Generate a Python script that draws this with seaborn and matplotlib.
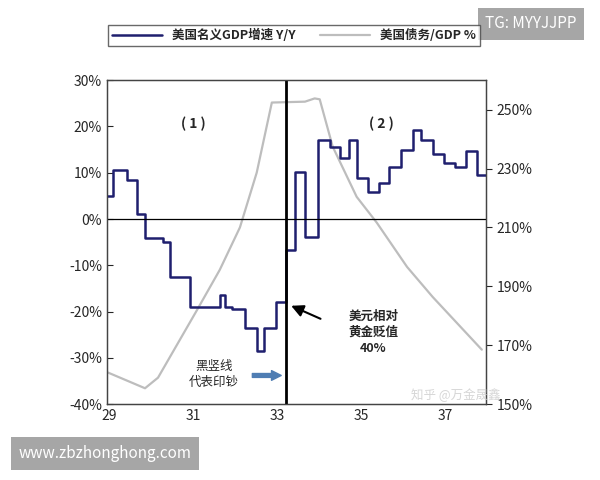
import numpy as np
import pandas as pd
import matplotlib.pyplot as plt
import seaborn as sns

# 美国名义GDP增速 Y/Y (阶梯线)
gdp_year = [28.95, 29.1, 29.43, 29.67, 29.86, 30.29, 30.45, 30.93, 31.64, 31.76, 31.93,
            32.24, 32.52, 32.69, 32.98, 33.21, 33.43, 33.67, 33.98, 34.26, 34.5, 34.71,
            34.9, 35.17, 35.43, 35.67, 35.95, 36.24, 36.43, 36.71, 36.98, 37.24, 37.5,
            37.76, 37.98]
gdp_val = [5, 10.5, 8.5, 1, -4, -5, -12.5, -19, -16.5, -19, -19.5,
           -23.6, -28.5, -23.6, -18, -6.7, 10.2, -3.8, 17, 15.5, 13.2, 17,
           8.8, 5.8, 7.7, 11.2, 15, 19.2, 17, 14, 12, 11.2, 14.7,
           9.5, 9.5]

# 美国债务/GDP %
debt_year = [28.95, 29.86, 30.17, 31.1, 31.64, 32.12, 32.52, 32.88, 33.67, 33.9,
             34.02, 34.33, 34.9, 35.38, 36.1, 36.71, 37.88]
debt_val = [160.9, 155.4, 159, 182, 195.6, 210, 228.6, 252.4, 252.7, 253.8,
            253.5, 237.4, 220.4, 211.6, 196.6, 186.4, 168.5]

xticks = [29, 31, 33, 35, 37]
navy = '#1f1f6e'
grey = '#bdbdbd'

sns.set_style('white')
plt.rcParams['font.family'] = ['Noto Sans CJK SC', 'DejaVu Sans']

fig = plt.figure(figsize=(6, 4.8), dpi=100)
ax = fig.add_axes([0.178, 0.158, 0.632, 0.675])
ax2 = ax.twinx()

gdp = pd.DataFrame({'year': gdp_year, 'val': gdp_val})
debt = pd.DataFrame({'year': debt_year, 'val': debt_val})
sns.lineplot(data=gdp, x='year', y='val', ax=ax, color=navy, lw=1.8,
             drawstyle='steps-post', label='美国名义GDP增速 Y/Y', legend=False)
sns.lineplot(data=debt, x='year', y='val', ax=ax2, color=grey, lw=1.6,
             label='美国债务/GDP %', legend=False)
ax.set_zorder(ax2.get_zorder() + 1)
ax.patch.set_visible(False)

ax.set_xlim(28.95, 37.98)
ax.set_ylim(-40, 30)
ax2.set_ylim(150, 260)
ax.set_xticks(xticks)
ax.set_xticklabels([str(t) for t in xticks])
ax.set_yticks(range(-40, 31, 10))
ax.set_yticklabels([f'{v}%' for v in range(-40, 31, 10)])
ax2.set_yticks(range(150, 251, 20))
ax2.set_yticklabels([f'{v}%' for v in range(150, 251, 20)])
ax.set_xlabel('')
ax.set_ylabel('')
ax2.set_ylabel('')
ax.axhline(0, color='black', lw=0.9)
ax.tick_params(axis='both', labelsize=10, direction='in', length=4)
ax2.tick_params(axis='y', labelsize=10, direction='out', length=4)
for a in (ax, ax2):
    for s in a.spines.values():
        s.set_color('#444444')
        s.set_linewidth(0.9)

ax.axvline(33.21, color='black', lw=2)
ax.text(31.0, 20.5, '( 1 )', ha='center', va='center', fontsize=10, fontweight='bold')
ax.text(35.5, 20.5, '( 2 )', ha='center', va='center', fontsize=10, fontweight='bold')
ax.annotate('', xy=(33.28, -18.5), xytext=(34.1, -21.8),
            arrowprops=dict(arrowstyle='-|>', color='black', lw=1.5, mutation_scale=18))
ax.text(35.3, -24.5, '美元相对\n黄金贬值\n40%', ha='center', va='center', fontsize=9,
        fontweight='bold', linespacing=1.3)
ax.annotate('', xy=(33.17, -33.8), xytext=(32.35, -33.8),
            arrowprops=dict(arrowstyle='simple', color='#4f7db3', mutation_scale=14))
ax.text(31.5, -33.5, '黑竖线\n代表印钞', ha='center', va='center', fontsize=9,
        linespacing=1.3)

h1, l1 = ax.get_legend_handles_labels()
h2, l2 = ax2.get_legend_handles_labels()
leg = fig.legend(h1 + h2, l1 + l2, loc='upper left', bbox_to_anchor=(0.17, 0.9, 0.64, 0.06),
                 mode='expand', ncol=2, frameon=True, fancybox=False, fontsize=9,
                 handlelength=4, borderpad=0.3)
leg.get_frame().set_edgecolor('#444444')
for t in leg.get_texts():
    t.set_fontweight('bold')

fig.text(0.685, 0.168, '知乎 @万金晟鑫', fontsize=9, color='#cccccc', alpha=0.8)
fig.text(0.885, 0.95, 'TG: MYYJJPP', fontsize=11, color='white', ha='center', va='center',
         bbox=dict(boxstyle='square,pad=0.5', fc='#a6a6a6', ec='none'))
fig.text(0.175, 0.055, 'www.zbzhonghong.com', fontsize=11, color='white', ha='center', va='center',
         bbox=dict(boxstyle='square,pad=0.5', fc='#a6a6a6', ec='none'))

fig.savefig('out.png', dpi=100)
